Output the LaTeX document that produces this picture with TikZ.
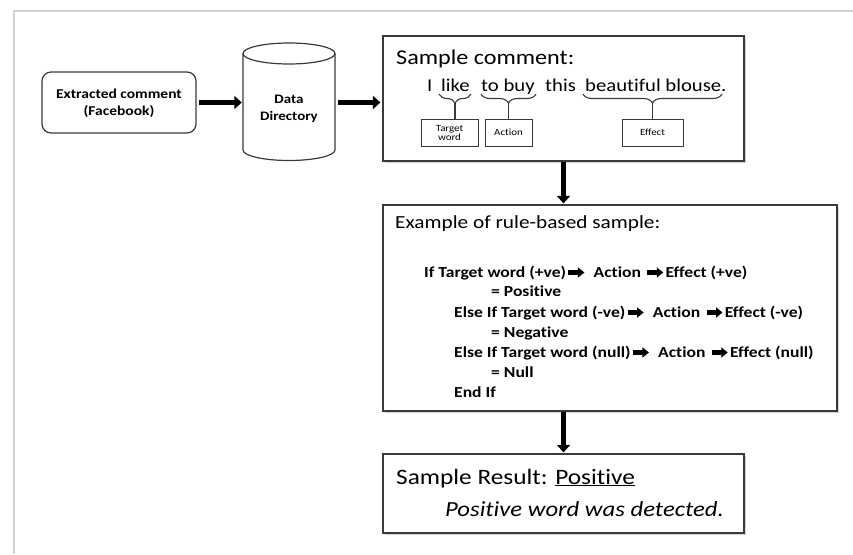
\documentclass[tikz,border=0pt]{standalone}
\usepackage{fontspec}
\setmainfont{Carlito}[FakeStretch=1.15, Ligatures=NoCommon]
\usetikzlibrary{arrows.meta,decorations.pathreplacing,shadows,fit}
\definecolor{edge}{HTML}{3A3A3A}
\newcommand\rarr{\tikz[baseline=-4.5pt]\draw[line width=4.5pt,-{Triangle[length=6.5pt,width=10pt]}] (0pt,0pt) -- (16pt,0pt);}
\tikzset{
  box/.style={draw=edge, line width=1.2pt, fill=white, inner sep=0pt,
    drop shadow={shadow xshift=1.5pt, shadow yshift=-1.5pt, opacity=0.35}},
  tag/.style={draw=edge, line width=0.9pt, inner sep=0pt, align=center, font=\fontsize{9.5}{9}\selectfont},
  bigarrow/.style={line width=5pt, -{Triangle[length=7.5pt,width=13pt]}},
  brc/.style={decorate, decoration={brace, mirror, amplitude=9pt}, line width=1.1pt, draw=edge},
  txt/.style={inner sep=0pt, anchor=base west},
}
\begin{document}
\begin{tikzpicture}[x=1pt, y=-1pt]
\useasboundingbox (0,0) rectangle (853,554);
% faint outer frame
\draw[gray!35, line width=2pt] (14,554) -- (14,11) -- (853,11);

% Extracted comment
\node[draw=edge, line width=1.2pt, rounded corners=9pt, minimum width=154pt, minimum height=61pt, inner sep=0pt] (ext) at (119,102.5) {};
\node[txt, anchor=base, font=\fontsize{13.5}{15}\selectfont\bfseries] (ext1) at (119,98) {Extracted comment};
\node[txt, anchor=base, font=\fontsize{13.5}{15}\selectfont\bfseries] (ext2) at (119,115) {(Facebook)};

% Data directory cylinder
\draw[edge, line width=1.2pt] (243,53.5) -- (243,150) arc[start angle=180, end angle=360, x radius=46pt, y radius=10.5pt] -- (335,53.5);
\draw[edge, line width=1.2pt] (289,53.5) ellipse [x radius=46pt, y radius=10.5pt];
\node[inner sep=0pt, fit={(243,43) (335,160)}] (dd) {};
\node[txt, anchor=base, font=\fontsize{13}{15}\selectfont\bfseries] (dd1) at (289,103) {Data};
\node[txt, anchor=base, font=\fontsize{13}{15}\selectfont\bfseries] (dd2) at (289,120) {Directory};

% Sample comment box
\node[box, minimum width=361pt, minimum height=125pt] (sc) at (563.5,98.5) {};
\node[txt, font=\fontsize{21}{24}\selectfont] (sct) at (396,64) {Sample comment:};
\node[txt, font=\fontsize{18}{20}\selectfont] (w1) at (427,91) {I};
\node[txt, font=\fontsize{18}{20}\selectfont] (w2) at (441,91) {like};
\node[txt, font=\fontsize{18}{20}\selectfont] (w3) at (481,91) {to buy};
\node[txt, font=\fontsize{18}{20}\selectfont] (w4) at (545,91) {this};
\node[txt, font=\fontsize{18}{20}\selectfont] (w5) at (585,91) {beautiful blouse.};
\node[tag, minimum width=57pt, minimum height=27pt] (tw) at (449.5,132.5) {Target\\word};
\node[tag, minimum width=47pt, minimum height=27pt] (ac) at (508.5,132.5) {Action};
\node[tag, minimum width=61pt, minimum height=27pt] (ef) at (652.5,132.5) {Effect};
\coordinate (b1a) at (439,94); \coordinate (b1b) at (471,94);
\coordinate (b2a) at (481,94); \coordinate (b2b) at (536,94);
\coordinate (b3a) at (583,94); \coordinate (b3b) at (722,94);
\draw[brc] (b1a) -- (b1b);
\draw[brc] (b2a) -- (b2b);
\draw[brc] (b3a) -- (b3b);
\coordinate (t1) at (455,103); \coordinate (t2) at (508.5,103); \coordinate (t3) at (652.5,103);
\draw[edge, line width=1.1pt] (t1) -- (t1 |- tw.north);
\draw[edge, line width=1.1pt] (t2) -- (ac.north);
\draw[edge, line width=1.1pt] (t3) -- (ef.north);

% Rule box
\node[box, minimum width=454pt, minimum height=206pt] (rule) at (610,308) {};
\node[txt, font=\fontsize{18.5}{20}\selectfont] (rt) at (395,228) {Example of rule-based sample:};
\begin{scope}[every node/.style={txt, font=\fontsize{15.3}{17}\selectfont\bfseries}]
\node (r1) at (424,277) {If Target word (+ve)\rarr\hspace{7pt}Action\hspace{4pt}\rarr Effect (+ve)};
\node (r2) at (491,296) {= Positive};
\node (r3) at (454,317) {Else If Target word (-ve)\rarr\hspace{7pt}Action\hspace{4pt}\rarr Effect (-ve)};
\node (r4) at (491,337) {= Negative};
\node (r5) at (454,357) {Else If Target word (null)\rarr\hspace{7pt}Action\hspace{4pt}\rarr Effect (null)};
\node (r6) at (491,377) {= Null};
\node (r7) at (454,397) {End If};
\end{scope}

% Result box
\node[box, minimum width=361pt, minimum height=79pt] (res) at (563.5,493.5) {};
\node[txt, font=\fontsize{22}{24}\selectfont] (rs1) at (396,484) {Sample Result: \underline{Positive}};
\node[txt, font=\fontsize{21.5}{24}\selectfont\itshape] (rs2) at (445,516) {Positive word was detected.};

% connectors
\draw[bigarrow] (ext.east) ++(2,0) coordinate (a1s) -- ([xshift=-1pt]dd.west |- a1s);
\draw[bigarrow] ([xshift=3pt]dd.east |- a1s) -- ([xshift=-2pt]sc.west |- a1s);
\draw[bigarrow] (sc.south) -- ([yshift=1pt]sc.south |- rule.north);
\draw[bigarrow] (sc.south |- rule.south) -- ([yshift=1pt]res.north);
\end{tikzpicture}
\end{document}
